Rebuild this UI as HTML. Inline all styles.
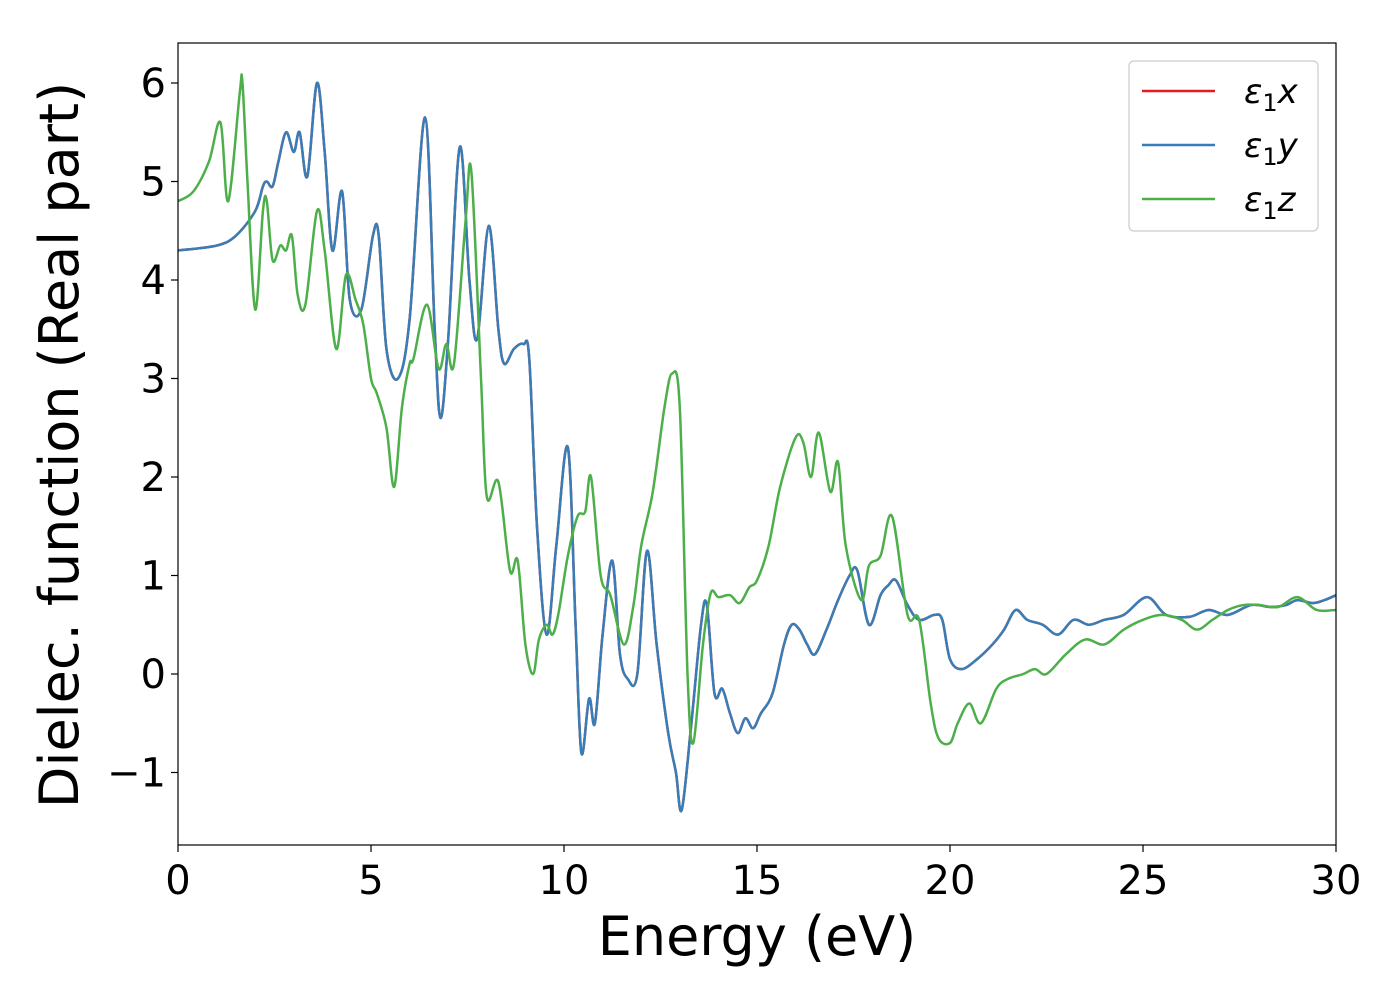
<!DOCTYPE html>
<html><head><meta charset="utf-8"><style>
body{margin:0;background:#fff}
svg{display:block;font-family:"DejaVu Sans","Liberation Sans",sans-serif}
</style></head><body>
<svg id="chart" width="1400" height="1000">
<g id="plot"></g>
</svg>
<script>
const energyXY=[0,1,1.5,2,2.2,2.3,2.45,2.6,2.8,3.0,3.15,3.35,3.6,3.8,4.0,4.25,4.45,4.75,5.05,5.2,5.4,5.7,6.0,6.4,6.65,6.8,7.0,7.3,7.55,7.75,8.05,8.3,8.45,8.7,8.95,9.1,9.3,9.55,9.8,10.1,10.3,10.45,10.65,10.8,11.0,11.25,11.45,11.65,11.9,12.15,12.4,12.7,12.9,13.05,13.3,13.55,13.7,13.9,14.1,14.3,14.5,14.7,14.9,15.1,15.4,15.7,15.9,16.1,16.3,16.5,16.8,17.1,17.4,17.6,17.9,18.2,18.4,18.6,18.9,19.2,19.6,19.8,20.0,20.3,20.7,21.1,21.4,21.7,22.0,22.4,22.8,23.2,23.6,24.0,24.5,25.1,25.6,26.2,26.7,27.2,27.8,28.3,28.7,29.0,29.4,29.7,30];
const eps1x=[4.3,4.35,4.45,4.7,4.95,5.0,4.95,5.2,5.5,5.3,5.5,5.05,6.0,5.3,4.3,4.9,3.8,3.7,4.45,4.45,3.3,3.0,3.6,5.65,3.5,2.6,3.4,5.35,4.0,3.4,4.55,3.5,3.15,3.3,3.35,3.2,1.5,0.4,1.3,2.3,0.5,-0.8,-0.25,-0.5,0.4,1.15,0.2,-0.05,0.0,1.25,0.3,-0.6,-1.0,-1.38,-0.5,0.5,0.7,-0.2,-0.15,-0.4,-0.6,-0.45,-0.55,-0.4,-0.2,0.3,0.5,0.45,0.3,0.2,0.45,0.75,1.0,1.05,0.5,0.8,0.9,0.95,0.7,0.55,0.6,0.55,0.15,0.05,0.15,0.3,0.45,0.65,0.55,0.5,0.4,0.55,0.5,0.55,0.6,0.78,0.6,0.58,0.65,0.6,0.7,0.68,0.7,0.75,0.72,0.75,0.8];
const eps1y=eps1x.slice();
const energyZ=[0,0.4,0.8,1.1,1.3,1.6,1.67,1.8,2.0,2.2,2.3,2.45,2.65,2.8,2.95,3.1,3.3,3.6,3.8,4.1,4.35,4.6,4.8,5.0,5.15,5.4,5.6,5.8,6.0,6.1,6.45,6.75,6.95,7.15,7.45,7.6,7.85,8.0,8.3,8.6,8.8,9.0,9.2,9.35,9.55,9.7,9.85,10.1,10.35,10.55,10.7,10.95,11.2,11.55,11.8,12.0,12.3,12.6,12.8,13.0,13.2,13.35,13.6,13.8,14.0,14.3,14.55,14.8,15.0,15.3,15.6,16.0,16.2,16.4,16.6,16.9,17.1,17.3,17.7,17.9,18.2,18.5,18.9,19.2,19.5,19.7,20.0,20.2,20.5,20.8,21.2,21.5,21.9,22.2,22.5,23.0,23.5,24.0,24.5,25.0,25.5,26.0,26.4,26.8,27.2,27.6,28.0,28.5,29.0,29.5,30];
const eps1z=[4.8,4.9,5.2,5.6,4.8,5.9,6.0,5.0,3.7,4.7,4.8,4.2,4.35,4.3,4.45,3.85,3.75,4.7,4.3,3.3,4.05,3.8,3.55,3.0,2.85,2.5,1.9,2.7,3.15,3.2,3.75,3.1,3.35,3.15,4.6,5.1,3.0,1.8,1.95,1.05,1.15,0.3,0.0,0.35,0.5,0.4,0.6,1.2,1.6,1.65,2.0,1.0,0.8,0.3,0.7,1.3,1.85,2.7,3.05,2.7,0.0,-0.7,0.3,0.82,0.78,0.8,0.72,0.88,0.95,1.3,1.9,2.4,2.35,2.0,2.45,1.85,2.15,1.3,0.75,1.1,1.2,1.6,0.6,0.55,-0.3,-0.65,-0.7,-0.5,-0.3,-0.5,-0.15,-0.05,0.0,0.05,0.0,0.2,0.35,0.3,0.45,0.55,0.6,0.55,0.45,0.55,0.65,0.7,0.7,0.68,0.78,0.65,0.65];
const xTicks=[0,5,10,15,20,25,30];
const yTicks=[-1,0,1,2,3,4,5,6];

const L=178,R=1336,T=43,B=845;
const xs=e=>L+(e)/30*(R-L);
const ys=v=>674-v*98.5;
const NS='http://www.w3.org/2000/svg';
const svg=document.getElementById('chart');
function mk(tag,attrs,parent){const el=document.createElementNS(NS,tag);for(const k in attrs)el.setAttribute(k,attrs[k]);(parent||svg).appendChild(el);return el;}
const defs=mk('defs',{});
const cp=mk('clipPath',{id:'clip'},defs);
mk('rect',{x:L,y:T,width:R-L,height:B-T},cp);
function pathFor(X,Y){
  const p=X.map((x,i)=>[xs(x),ys(Y[i])]);
  let d='M'+p[0][0]+','+p[0][1];
  for(let i=0;i<p.length-1;i++){
    const p0=p[Math.max(0,i-1)],p1=p[i],p2=p[i+1],p3=p[Math.min(p.length-1,i+2)];
    const c1x=p1[0]+(p2[0]-p0[0])/6,c1y=p1[1]+(p2[1]-p0[1])/6;
    const c2x=p2[0]-(p3[0]-p1[0])/6,c2y=p2[1]-(p3[1]-p1[1])/6;
    d+=' C'+c1x+','+c1y+' '+c2x+','+c2y+' '+p2[0]+','+p2[1];
  }
  return d;
}
const g=mk('g',{'clip-path':'url(#clip)'});
let s;
s=mk('path',{d:pathFor(energyXY,eps1x),fill:'none',stroke:'#e41a1c','stroke-width':2.5},g);


s=mk('path',{d:pathFor(energyXY,eps1y),fill:'none',stroke:'#377eb8','stroke-width':2.5},g);


s=mk('path',{d:pathFor(energyZ,eps1z),fill:'none',stroke:'#4daf4a','stroke-width':2.5},g);



const frame=mk('rect',{x:L,y:T,width:R-L,height:B-T,fill:'none',stroke:'#000','stroke-width':1.2});


xTicks.forEach(t=>{
  mk('line',{x1:xs(t),x2:xs(t),y1:B,y2:B+7,stroke:'#000','stroke-width':1.2});
  const tx=mk('text',{x:xs(t),y:B+49,'font-size':40,'text-anchor':'middle'});
  tx.textContent=t;
  
  
});
yTicks.forEach(t=>{
  mk('line',{x1:L-7,x2:L,y1:ys(t),y2:ys(t),stroke:'#000','stroke-width':1.2});
  const tx=mk('text',{x:L-12,y:ys(t)+14,'font-size':40,'text-anchor':'end'});
  tx.textContent=t<0?'\u2212'+Math.abs(t):t;
  
  
});
const xl=mk('text',{x:757,y:955,'font-size':54,'text-anchor':'middle'});
xl.textContent='Energy (eV)';


const yl=mk('text',{x:0,y:0,'font-size':54,'text-anchor':'middle',transform:'translate(78,445) rotate(-90)'});
yl.textContent='Dielec. function (Real part)';



const lg=mk('g',{});


mk('rect',{x:1129,y:61,width:189,height:170,rx:5,fill:'#fff',stroke:'#ccc','stroke-width':1.2},lg);
const legNames=['x','y','z'],legColors=['#e41a1c','#377eb8','#4daf4a'];
legNames.forEach((n,i)=>{
  const yy=91+i*54;
  const ln=mk('line',{x1:1142,x2:1215,y1:yy,y2:yy,stroke:legColors[i],'stroke-width':2.5},lg);
  
  
  const t=mk('text',{x:1244,y:yy+12,'font-size':34,'font-style':'italic'},lg);
  t.innerHTML='ε<tspan font-style="normal" font-size="24" dy="8">1</tspan><tspan dy="-8">'+n+'</tspan>';
  
  
});
</script>
</body></html>
